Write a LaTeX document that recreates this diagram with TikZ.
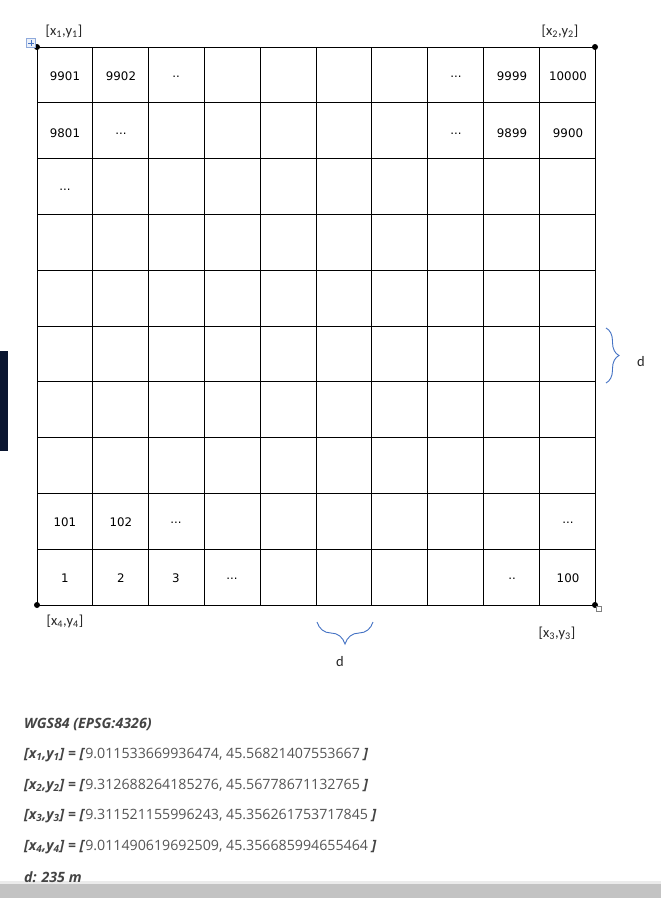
\documentclass[tikz,border=0pt]{standalone}
\usepackage{fontspec}
\setmainfont{Open Sans}
\newfontfamily\cellfont{DejaVu Sans}
\newfontfamily\labfont{Carlito}
\usepackage{tikz}
\usetikzlibrary{positioning,decorations.pathreplacing,backgrounds}

\definecolor{bracecol}{HTML}{4472C4}
\definecolor{txtgray}{HTML}{444444}
\definecolor{numgray}{HTML}{555555}
\definecolor{bargray}{HTML}{C3C3C3}
\definecolor{navybar}{HTML}{0A1530}

\tikzset{
  cell/.style={font=\cellfont\fontsize{11.8}{13}\selectfont, inner sep=0pt},
  corner/.style={circle, fill=black, inner sep=0pt, minimum size=6pt},
  cornerlab/.style={font=\labfont\fontsize{14.5}{16}\selectfont, text=black!85, inner sep=0pt},
  dbrace/.style={draw=bracecol, line width=0.9pt, decorate},
  coordline/.style={font=\fontsize{14.2}{16}\selectfont, text=numgray, anchor=west, inner sep=0pt},
  headline/.style={coordline, font=\bfseries\itshape\fontsize{14.2}{16}\selectfont, text=txtgray}
}
\newcommand{\cpt}[1]{\textcolor{txtgray}{\textbf{\textit{[x\textsubscript{#1},y\textsubscript{#1}] = [}}}}
\newcommand{\cend}{\textcolor{txtgray}{\textbf{\textit{]}}}}

\begin{document}
\begin{tikzpicture}[x=1pt,y=-1pt]
\useasboundingbox (0,0) rectangle (661,902);
% grid corners
\node[corner] (C1) at (37,47) {};
\node[corner] (C2) at (595,47) {};
\node[corner] (C3) at (595,605) {};
\node[corner] (C4) at (37,605) {};
\begin{scope}[on background layer]
\fill[white] (0,0) rectangle (661,902);
\draw[line width=0.8pt] (C1.center) rectangle (C3.center);
\foreach \i in {1,...,9} {
  \draw[line width=0.8pt] (37+55.8*\i,47) -- (37+55.8*\i,605);
  \draw[line width=0.8pt] (37,47+55.8*\i) -- (595,47+55.8*\i);
}
\end{scope}
% table handles
\draw[bracecol!60, fill=bracecol!10] (26.5,38.5) rectangle (35.5,47.5);
\draw[bracecol, line width=0.5pt] (28,43) -- (34,43) (31,40) -- (31,46);
\draw[gray, fill=white, line width=0.4pt] (596,606) rectangle (601,611);
% corner labels
\node[cornerlab] (L1) at (64,31) {[x\textsubscript{1},y\textsubscript{1}]};
\node[cornerlab] (L2) at (560,31) {[x\textsubscript{2},y\textsubscript{2}]};
\node[cornerlab] (L3) at (557,633) {[x\textsubscript{3},y\textsubscript{3}]};
\node[cornerlab] (L4) at (65,621) {[x\textsubscript{4},y\textsubscript{4}]};
% top row
\node[cell] (N9901) at (65,76) {9901};
\node[cell] (N9902) at (121,76) {9902};
\node[cell] (T1) at (176,77) {..};
\node[cell] (T2) at (456,77) {...};
\node[cell] (N9999) at (512,76) {9999};
\node[cell] (N10000) at (568,76) {10000};
% second row
\node[cell] (N9801) at (65,133) {9801};
\node[cell] (S1) at (121,134) {...};
\node[cell] (S2) at (456,134) {...};
\node[cell] (N9899) at (512,133) {9899};
\node[cell] (N9900) at (568,133) {9900};
% third row
\node[cell] (R1) at (65,190) {...};
% row of 101
\node[cell] (N101) at (65,522) {101};
\node[cell] (N102) at (121,522) {102};
\node[cell] (U1) at (176,523) {...};
\node[cell] (U2) at (568,523) {...};
% bottom row
\node[cell] (N1) at (65,578) {1};
\node[cell] (N2) at (121,578) {2};
\node[cell] (N3) at (176,578) {3};
\node[cell] (B1) at (232,579) {...};
\node[cell] (B2) at (512,579) {..};
\node[cell] (N100) at (568,578) {100};
% braces
\coordinate (RB1) at (606,328);
\coordinate (RB2) at (606,383);
\draw[dbrace, decoration={brace, amplitude=13pt, aspect=0.5}] (RB1) -- (RB2);
\node[cornerlab] (dR) at (641,362) {d};
\coordinate (BB1) at (373,622);
\coordinate (BB2) at (317,622);
\draw[dbrace, decoration={brace, amplitude=22pt, aspect=0.5}] (BB1) -- (BB2);
\node[cornerlab] (dB) at (340,662) {d};
% bars
\fill[navybar] (0,351) rectangle (8,451);
\fill[black!8] (0,881) rectangle (661,884);
\fill[bargray] (0,884) rectangle (661,898);
% coordinates text
\node[headline] (W) at (24,724) {WGS84 (EPSG:4326)};
\node[coordline] (P1) at (24,755) {\cpt{1}9.011533669936474, 45.56821407553667 \cend};
\node[coordline] (P2) at (24,786) {\cpt{2}9.312688264185276, 45.56778671132765 \cend};
\node[coordline] (P3) at (24,816) {\cpt{3}9.311521155996243, 45.356261753717845 \cend};
\node[coordline] (P4) at (24,847) {\cpt{4}9.011490619692509, 45.356685994655464 \cend};
\node[headline] (D) at (24,877) {d: 235 m};
\end{tikzpicture}
\end{document}
